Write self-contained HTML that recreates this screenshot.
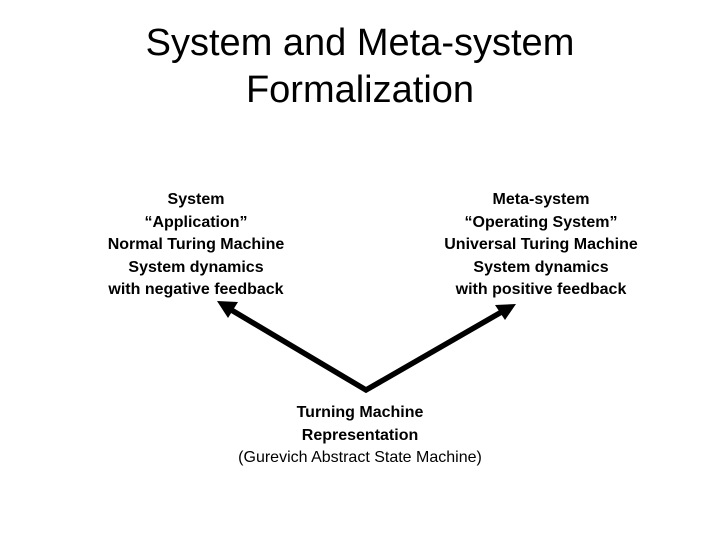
<!DOCTYPE html>
<html><head><style>
body{margin:0;width:720px;height:540px;background:#fff;position:relative;font-family:"Liberation Sans",Arial,sans-serif;overflow:hidden}
.t{position:absolute;left:0;width:720px;top:20px;text-align:center;font-size:38px;line-height:47px;color:#000}
.b{position:absolute;text-align:center;font-size:16px;font-weight:bold;line-height:22.5px;white-space:nowrap}
</style></head><body>
<div class="t">System and Meta-system<br>Formalization</div>
<div class="b" style="left:46px;width:300px;top:189px">System<br>“Application”<br>Normal Turing Machine<br>System dynamics<br>with negative feedback</div>
<div class="b" style="left:391px;width:300px;top:189px">Meta-system<br>“Operating System”<br>Universal Turing Machine<br>System dynamics<br>with positive feedback</div>
<div class="b" style="left:160px;width:400px;top:402px">Turning Machine<br>Representation<br><span style="font-weight:normal">(Gurevich Abstract State Machine)</span></div>
<svg width="720" height="540" style="position:absolute;left:0;top:0">
<polyline points="228,308 366,390 505,310" fill="none" stroke="#000" stroke-width="5.5" stroke-linejoin="miter"/>
<polygon points="217,301 238,302 228,318" fill="#000"/>
<polygon points="516,304 495,305 505,320" fill="#000"/>
</svg>
</body></html>
